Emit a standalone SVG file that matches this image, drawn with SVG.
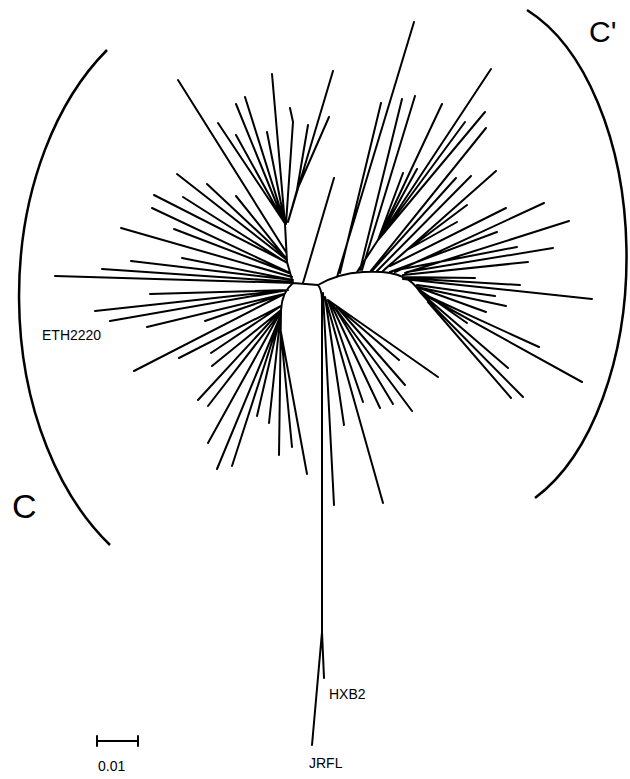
<svg xmlns="http://www.w3.org/2000/svg" width="630" height="779" viewBox="0 0 630 779">
<style>
.br{fill:none;stroke:#000;stroke-width:2;stroke-linecap:round;stroke-linejoin:round}
.arc{fill:none;stroke:#000;stroke-width:2.5}
.lbl{font-family:"Liberation Sans",Arial,sans-serif;fill:#000}
</style>
<rect width="630" height="779" fill="#fff"/>
<g id="brackets">
<path class="arc" d="M107,50 A200,297 0 0 0 110,545"/>
<path class="arc" d="M527,10 A150,262 0 0 1 535,498"/>
</g>
<g id="tree">
<path class="br" d="M293,283 L318,285
M293,283 L287,262 L285,224
M285,224 L272,74
M286,224 L293,122 L290,108
M285,224 L245,97
M284,222 L236,104
M284,222 L218,123
M284,222 L236,135
M285,224 L267,132
M288,222 L333,71
M288,222 L297,190 L308,125
M297,190 L329,117
M286,252 L178,80
M287,260 L177,174
M285,257 L207,184
M286,262 L154,195
M287,263 L183,197
M285,257 L236,196
M290,273 L152,208
M289,273 L174,229
M292,277 L121,228
M293,280 L182,258
M292,280 L131,261
M293,282 L102,269
M293,283 L55,276
M288,290 L150,294
M288,290 L95,311
M288,290 L110,321
M284,294 L147,327
M284,294 L205,321
M284,294 L134,371
M293,283 Q282,292 281,310 L279,455
M281,306 L179,358
M281,306 L211,353
M281,310 L212,366
M281,310 L198,400
M280,313 L208,406
M280,313 L208,443
M280,317 L217,469
M280,317 L232,466
M280,317 L257,416
M280,320 L269,423
M280,323 L292,447
M280,327 L307,474
M303,283 L334,178
M318,285 Q322,290 322,300 L322,632 L324,678
M322,632 L312,745
M323,293 L334,505
M325,297 L344,425
M325,297 L383,503
M328,300 L363,402
M330,302 L380,408
M332,303 L393,404
M333,305 L412,411
M337,307 L405,385
M337,307 L399,360
M328,300 L438,377
M318,285 C330,278 345,273 363,272 C380,271 395,273 403,277 C410,280 415,284 420,292 L430,303
M337,277 L414,22
M340,273 L381,103
M360,270 L402,99
M362,270 L415,96
M357,272 L378,240
M378,240 L403,173
M378,240 L417,169
M378,240 L442,104
M378,240 L465,122
M378,240 L485,112
M378,240 L491,69
M370,272 L486,128
M372,271 L456,178
M377,271 L471,176
M385,269 L407,250 L467,205
M407,250 L457,222
M383,271 L496,171
M390,266 L506,208
M390,272 L497,232
M395,272 L544,203
M405,273 L569,221
M407,272 L553,248
M403,275 L528,262
M397,270 L517,247
M403,277 L475,278
M403,278 L520,285
M403,279 L592,299
M417,285 L495,296
M417,287 L506,306
M417,287 L486,312
M417,288 L467,323
M421,293 L539,347
M421,293 L508,368
M421,293 L582,382
M430,303 L523,397
M428,302 L511,398"/>
</g>
<g id="scale">
<path class="br" d="M97,741 L138,741 M97,736 L97,746 M138,736 L138,746"/>
<text class="lbl" x="98" y="771" font-size="14">0.01</text>
</g>
<g id="labels">
<text class="lbl" x="589" y="42" font-size="30">C'</text>
<text class="lbl" x="12" y="518" font-size="34">C</text>
<text class="lbl" x="42" y="340" font-size="14">ETH2220</text>
<text class="lbl" x="329" y="699" font-size="14">HXB2</text>
<text class="lbl" x="309" y="768" font-size="14">JRFL</text>
</g>
</svg>
